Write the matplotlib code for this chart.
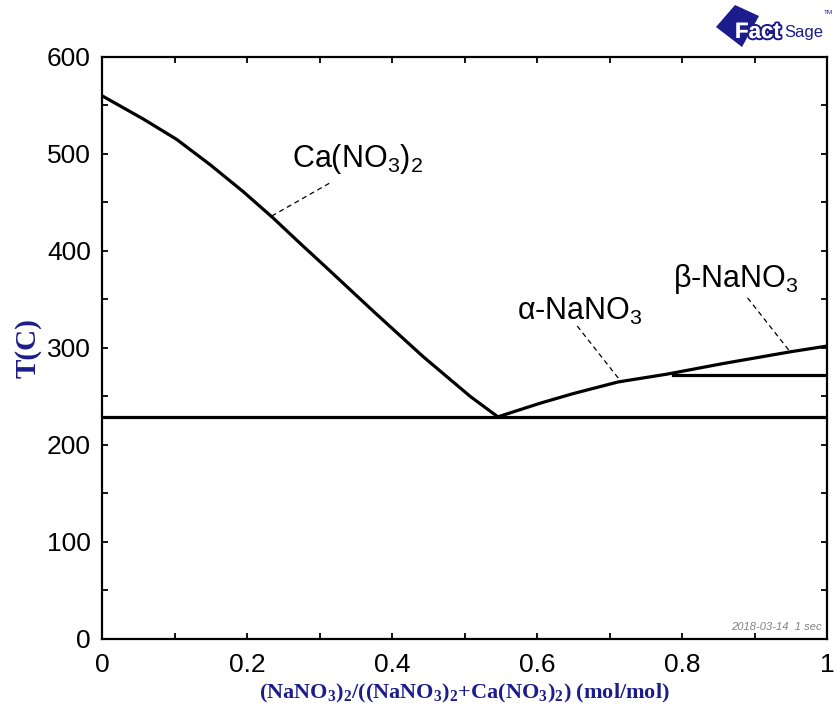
import matplotlib
matplotlib.use("Agg")
import matplotlib.pyplot as plt
import matplotlib.patheffects as pe
from matplotlib.patches import Polygon
from matplotlib.ticker import MultipleLocator, FuncFormatter

plt.rcParams["font.family"] = ["Liberation Sans", "DejaVu Sans"]
plt.rcParams["mathtext.fontset"] = "custom"
plt.rcParams["mathtext.rm"] = "Liberation Sans"
plt.rcParams["mathtext.bf"] = "Liberation Serif:bold"

NAVY = "#1c1c8c"
W, H = 837, 713

# liquidus on the Ca(NO3)2 side
ca_x = [0.0, 0.057, 0.103, 0.149, 0.195, 0.236, 0.273, 0.305, 0.374, 0.443, 0.508, 0.546]
ca_T = [560, 536, 515, 489, 461, 434, 408, 386, 338, 291, 250, 229]

# liquidus on the NaNO3 side
na_x = [0.546, 0.604, 0.650, 0.712, 0.779, 0.857, 0.949, 1.0]
na_T = [229, 243, 253, 265, 273, 284, 296, 302]

eutectic_T = 229
transition_x = [0.787, 1.0]
transition_T = 272.5

labels = [r"Ca(NO$_3$)$_2$", r"α-NaNO$_3$", r"β-NaNO$_3$"]
label_xy = [(0.262, 487), (0.572, 329), (0.788, 363)]
leaders = [((0.234, 436), (0.314, 470)),
           ((0.712, 269), (0.654, 324)),
           ((0.947, 298), (0.889, 353))]

fig = plt.figure(figsize=(W / 100, H / 100), dpi=100)
ax = fig.add_axes([0.1219, 0.1038, 0.8662, 0.8163])

ax.plot(ca_x, ca_T, color="black", lw=2.3, solid_joinstyle="round")
ax.plot(na_x, na_T, color="black", lw=2.3, solid_joinstyle="round")
ax.plot([0, 1], [eutectic_T, eutectic_T], color="black", lw=2.3)
ax.plot(transition_x, [transition_T, transition_T], color="black", lw=2.3)

for (p0, p1) in leaders:
    ax.plot([p0[0], p1[0]], [p0[1], p1[1]], color="black", lw=0.9,
            ls=(0, (4, 3)))
for txt, (x, y) in zip(labels, label_xy):
    ax.text(x, y, txt, fontsize=22, ha="left", va="baseline")

ax.set_xlim(0, 1)
ax.set_ylim(0, 600)
ax.xaxis.set_major_locator(MultipleLocator(0.2))
ax.xaxis.set_minor_locator(MultipleLocator(0.1))
ax.yaxis.set_major_locator(MultipleLocator(100))
ax.yaxis.set_minor_locator(MultipleLocator(50))
ax.xaxis.set_major_formatter(FuncFormatter(lambda v, p: f"{v:g}"))
ax.tick_params(which="both", direction="in", top=True, right=True,
               length=4, width=1.3, labelsize=19)
ax.tick_params(axis="x", pad=10)
ax.tick_params(axis="y", pad=8)
for s in ax.spines.values():
    s.set_linewidth(1.6)

ax.set_xlabel(r"(NaNO$_\mathbf{3}$)$_\mathbf{2}$/((NaNO$_\mathbf{3}$)$_\mathbf{2}$"
              r"+Ca(NO$_\mathbf{3}$)$_\mathbf{2}$) (mol/mol)",
              family="Liberation Serif", fontweight="bold", fontsize=16,
              color=NAVY, labelpad=4)
ax.set_ylabel("T(C)", family="Liberation Serif", fontweight="bold",
              fontsize=21, color=NAVY, labelpad=4)

ax.text(0.993, 0.012, "2018-03-14  1 sec", transform=ax.transAxes,
        ha="right", va="bottom", fontsize=8, style="italic", color="#808080")

# FactSage logo in the top-right corner (pixel positions)
def fx(px):
    return px / W


def fy(py):
    return 1 - py / H


diamond = [(716, 27), (735, 5), (759, 16), (742, 47)]
fig.patches.append(Polygon([(fx(x), fy(y)) for x, y in diamond], closed=True,
                           transform=fig.transFigure, facecolor=NAVY,
                           edgecolor="none"))
fig.text(fx(735), fy(38), "Fact", fontsize=16, fontweight="bold", color="white",
         ha="left", va="baseline",
         path_effects=[pe.withStroke(linewidth=3, foreground=NAVY),
                       pe.Normal()])
fig.text(fx(784), fy(37), "Sage", fontsize=12, color=NAVY, ha="left",
         va="baseline")
fig.text(fx(824), fy(13), "TM", fontsize=4.5, color=NAVY, ha="left",
         va="center")

fig.savefig("out.png", dpi=100)
